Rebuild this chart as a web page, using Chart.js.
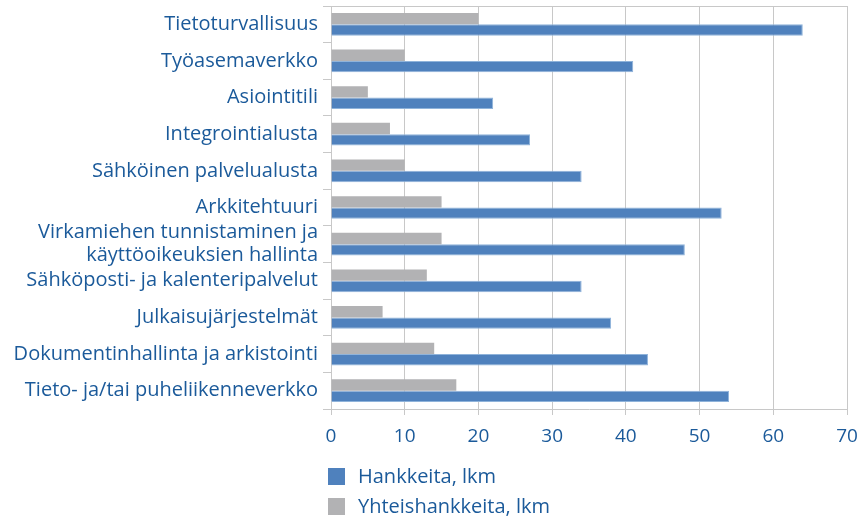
<!DOCTYPE html>
<html>
<head>
<meta charset="utf-8">
<script src="https://cdn.jsdelivr.net/npm/chart.js@4/dist/chart.umd.min.js"></script>
<style>
  html, body { margin: 0; padding: 0; background: #ffffff; }
  #wrap { position: relative; width: 863px; height: 519px; }
  #c { position: absolute; left: 0; top: 0; }
  .lg { position: absolute; font-family: "Open Sans", sans-serif; font-size: 20px; color: #1b5a9a; line-height: 24px; white-space: nowrap; }
  .sw { position: absolute; width: 17px; height: 17px; }
</style>
</head>
<body>
<div id="wrap">
  <canvas id="c" width="863" height="519"></canvas>
  <div class="sw" style="left:328px;top:468px;background:#4f81bd;"></div>
  <div class="lg" id="lg1" style="left:358px;top:464px;"></div>
  <div class="sw" style="left:328px;top:498px;background:#b2b2b4;"></div>
  <div class="lg" id="lg2" style="left:358px;top:494px;"></div>
</div>
<script>
const categories = [
  "Tietoturvallisuus",
  "Työasemaverkko",
  "Asiointitili",
  "Integrointialusta",
  "Sähköinen palvelualusta",
  "Arkkitehtuuri",
  ["Virkamiehen tunnistaminen ja", "käyttöoikeuksien hallinta"],
  "Sähköposti- ja kalenteripalvelut",
  "Julkaisujärjestelmät",
  "Dokumentinhallinta ja arkistointi",
  "Tieto- ja/tai puheliikenneverkko"
];
const seriesNames = ["Hankkeita, lkm", "Yhteishankkeita, lkm"];
const hankkeita = [64, 41, 22, 27, 34, 53, 48, 34, 38, 43, 54];
const yhteishankkeita = [20, 10, 5, 8, 10, 15, 15, 13, 7, 14, 17];
const xTicks = [0, 10, 20, 30, 40, 50, 60, 70];

document.getElementById('lg1').textContent = seriesNames[0];
document.getElementById('lg2').textContent = seriesNames[1];

const textColor = '#1b5a9a';
const gridColor = '#c8c8c8';

const topBorder = {
  id: 'topBorder',
  afterDraw(chart) {
    const a = chart.chartArea, ctx = chart.ctx;
    ctx.save();
    ctx.strokeStyle = gridColor;
    ctx.lineWidth = 1;
    ctx.beginPath();
    ctx.moveTo(a.left, Math.round(a.top) + 0.5);
    ctx.lineTo(a.right, Math.round(a.top) + 0.5);
    ctx.stroke();
    ctx.restore();
  }
};

new Chart(document.getElementById('c'), {
  type: 'bar',
  data: {
    labels: categories,
    datasets: [
      {
        label: seriesNames[1],
        data: yhteishankkeita,
        backgroundColor: '#b2b2b4',
        borderWidth: 0,
        categoryPercentage: 0.62,
        barPercentage: 1.0
      },
      {
        label: seriesNames[0],
        data: hankkeita,
        backgroundColor: '#4f81bd',
        borderColor: '#8fb3da',
        borderWidth: 1,
        categoryPercentage: 0.62,
        barPercentage: 1.0
      }
    ]
  },
  options: {
    indexAxis: 'y',
    responsive: false,
    animation: false,
    layout: { padding: { top: 6, right: 16, bottom: 70, left: 0 } },
    plugins: { legend: { display: false }, tooltip: { enabled: false } },
    scales: {
      x: {
        min: 0, max: 70,
        afterBuildTicks(scale) { scale.ticks = xTicks.map(v => ({ value: v })); },
        afterFit(scale) { scale.height = 40; scale.paddingLeft = 0; scale.paddingRight = 0; },
        grid: { color: gridColor, lineWidth: 1, drawTicks: true, tickLength: 6, tickColor: gridColor },
        border: { display: true, color: gridColor, width: 1 },
        ticks: { color: textColor, padding: 10, font: { family: 'Open Sans', size: 19 }, maxRotation: 0 }
      },
      y: {
        afterFit(scale) { scale.width = 331; scale.paddingTop = 0; scale.paddingBottom = 0; },
        grid: { drawOnChartArea: false, drawTicks: true, tickLength: 8, color: gridColor, offset: true },
        border: { display: true, color: gridColor, width: 1 },
        ticks: { color: textColor, padding: 5, font: { family: 'Open Sans', size: 20, lineHeight: 1.15 }, autoSkip: false }
      }
    }
  },
  plugins: [topBorder]
});
</script>
</body>
</html>
